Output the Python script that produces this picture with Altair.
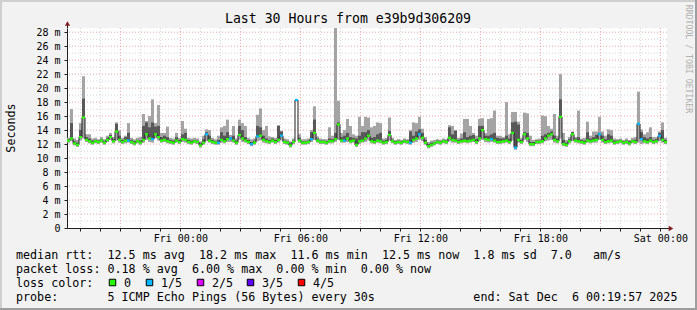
import altair as alt
import pandas as pd

# ---------------------------------------------------------------- data
# time axis: hours relative to Fri 00:00; 200 bins of 9 minutes
T_START = -5.6675   # Thu 18:19:57
T_END = 24.3325     # Sat 00:19:57
N_BINS = 200

median_ms = [
    12.5, 12.8, 12.1, 11.9, 13.0, 15.8, 12.6, 12.4, 12.2, 12.4,
    12.3, 12.5, 12.2, 12.6, 13.0, 12.4, 13.8, 12.6, 12.3, 12.5,
    12.5, 12.3, 12.1, 12.4, 12.2, 12.6, 13.4, 12.8, 12.7, 13.4,
    13.0, 12.5, 12.6, 12.4, 12.3, 12.2, 12.5, 12.3, 12.7, 12.6,
    12.3, 12.2, 12.4, 12.3, 11.8, 12.2, 13.4, 12.5, 12.3, 12.2,
    12.2, 12.6, 12.4, 12.7, 12.8, 12.5, 12.2, 13.3, 12.8, 12.5,
    12.3, 12.0, 12.2, 13.1, 13.2, 12.6, 12.4, 12.3, 12.5, 12.3,
    12.6, 13.2, 12.3, 12.2, 11.8, 12.3, 18.3, 12.5, 12.2, 12.2,
    12.3, 12.7, 13.6, 12.5, 12.3, 12.3, 12.2, 12.4, 12.4, 12.7,
    14.8, 12.5, 12.5, 12.8, 12.4, 12.5, 11.9, 12.4, 12.5, 12.8,
    13.2, 12.4, 12.3, 12.5, 12.4, 12.2, 12.3, 13.3, 12.4, 12.2,
    12.3, 12.2, 12.4, 12.3, 12.2, 12.6, 12.8, 13.4, 12.9, 12.2,
    11.7, 11.9, 12.1, 12.3, 12.2, 12.4, 12.3, 12.9, 12.6, 12.5,
    12.3, 12.4, 12.5, 12.4, 12.5, 12.6, 12.3, 12.8, 14.0, 12.7,
    12.6, 12.7, 12.5, 12.3, 12.3, 12.4, 12.5, 12.3, 13.6, 11.5,
    12.6, 12.3, 13.4, 12.8, 12.0, 12.0, 12.3, 12.3, 12.4, 12.8,
    13.2, 13.4, 12.6, 12.4, 15.9, 12.0, 11.9, 12.4, 13.4, 12.5,
    12.4, 12.3, 12.2, 12.5, 12.4, 12.5, 12.6, 13.4, 12.6, 12.3,
    12.4, 12.5, 12.2, 12.3, 12.4, 12.2, 12.3, 12.1, 12.4, 12.3,
    14.9, 12.7, 12.4, 12.3, 12.5, 12.3, 12.4, 13.2, 12.6, 12.3,
]

ping_min_ms = [
    12.2, 12.4, 11.8, 11.6, 12.5, 12.8, 12.3, 12.1, 11.9, 12.1,
    12.0, 12.2, 11.9, 12.3, 12.6, 12.1, 12.5, 12.2, 12.0, 12.1,
    12.2, 12.0, 11.8, 12.1, 11.9, 12.2, 12.6, 12.3, 12.2, 12.8,
    12.5, 12.2, 12.3, 12.1, 12.0, 11.9, 12.2, 12.0, 12.3, 12.2,
    12.0, 11.9, 12.1, 12.0, 11.5, 11.9, 12.4, 12.2, 12.0, 11.9,
    11.9, 12.2, 12.1, 12.3, 12.3, 12.2, 11.9, 12.6, 12.3, 12.2,
    12.0, 11.7, 11.9, 12.4, 12.5, 12.2, 12.1, 12.0, 12.2, 12.0,
    12.2, 12.5, 12.0, 11.9, 11.5, 12.0, 18.1, 12.2, 11.9, 11.9,
    12.0, 12.3, 12.6, 12.2, 12.0, 12.0, 11.9, 12.1, 12.1, 12.3,
    12.6, 12.2, 12.2, 12.3, 12.1, 12.2, 11.6, 12.0, 12.2, 12.3,
    12.5, 12.1, 12.0, 12.2, 12.1, 11.9, 12.0, 12.5, 12.1, 11.9,
    12.0, 11.9, 12.1, 12.0, 11.9, 12.2, 12.3, 12.6, 12.4, 11.9,
    11.4, 11.6, 11.8, 12.0, 11.9, 12.1, 12.0, 12.4, 12.2, 12.2,
    12.0, 12.1, 12.2, 12.1, 12.2, 12.3, 12.0, 12.4, 12.6, 12.3,
    12.2, 12.3, 12.2, 12.0, 12.0, 12.1, 12.2, 12.0, 12.5, 11.2,
    12.2, 12.0, 12.6, 12.3, 11.7, 11.7, 12.0, 12.0, 12.1, 12.4,
    12.5, 12.6, 12.2, 12.1, 12.8, 11.7, 11.6, 12.1, 12.4, 12.2,
    12.1, 12.0, 11.9, 12.2, 12.1, 12.2, 12.2, 12.6, 12.2, 12.0,
    12.1, 12.2, 11.9, 12.0, 12.1, 11.9, 12.0, 11.8, 12.1, 12.0,
    12.2, 12.0, 12.1, 12.0, 12.2, 12.0, 12.1, 12.4, 12.2, 12.0,
]

ping_q4_ms = [
    12.7, 15.0, 12.4, 12.2, 14.0, 18.5, 13.0, 12.8, 12.5, 12.6,
    12.5, 12.7, 12.4, 12.9, 13.3, 12.7, 14.9, 13.2, 12.6, 13.0,
    13.6, 12.6, 12.4, 12.6, 12.5, 14.6, 15.1, 14.4, 15.1, 14.5,
    14.6, 13.0, 13.2, 13.0, 12.6, 12.5, 13.0, 12.6, 13.4, 13.6,
    12.6, 12.5, 12.6, 12.5, 12.1, 12.7, 13.7, 13.2, 12.6, 12.4,
    12.6, 13.7, 13.2, 13.7, 13.0, 13.2, 12.5, 14.6, 14.0, 13.0,
    12.6, 12.3, 12.5, 14.6, 14.4, 13.2, 12.8, 12.6, 12.8, 12.6,
    14.6, 13.8, 12.5, 12.4, 12.1, 12.5, 18.3, 12.9, 12.4, 12.4,
    12.5, 13.7, 15.5, 12.8, 12.5, 12.5, 12.4, 12.8, 12.7, 13.6,
    15.1, 13.0, 13.2, 13.6, 13.0, 12.9, 12.8, 13.2, 13.7, 13.7,
    14.0, 12.9, 13.0, 13.4, 13.6, 12.5, 12.6, 13.9, 12.6, 12.4,
    12.5, 12.4, 12.6, 12.5, 13.8, 13.2, 13.8, 14.1, 13.6, 12.6,
    12.0, 12.2, 12.3, 12.5, 12.4, 12.6, 12.5, 14.4, 13.4, 13.9,
    12.6, 12.8, 13.7, 13.0, 13.2, 13.3, 12.7, 14.6, 14.6, 13.2,
    13.2, 13.4, 13.6, 12.9, 12.8, 12.8, 13.2, 12.8, 15.1, 15.2,
    14.8, 12.6, 13.7, 13.6, 12.3, 12.3, 12.5, 12.5, 13.2, 13.4,
    13.6, 13.8, 13.2, 12.8, 18.4, 12.6, 12.2, 12.7, 13.7, 12.8,
    13.0, 12.6, 12.5, 13.7, 12.8, 13.0, 13.3, 13.6, 13.2, 12.7,
    13.4, 13.2, 12.5, 12.5, 12.6, 12.4, 12.5, 12.4, 12.6, 12.6,
    15.0, 13.7, 13.0, 12.8, 13.0, 12.6, 12.7, 13.6, 14.0, 12.6,
]

ping_max_ms = [
    12.9, 17.0, 12.8, 12.6, 15.0, 21.7, 13.4, 13.4, 12.8, 12.9,
    12.7, 13.0, 12.7, 13.2, 13.6, 13.0, 15.1, 14.0, 12.9, 13.2,
    15.0, 12.9, 12.7, 12.9, 13.0, 16.3, 15.3, 16.0, 18.4, 15.0,
    17.6, 13.6, 13.6, 14.5, 12.9, 12.8, 13.6, 12.9, 15.3, 14.2,
    12.9, 12.8, 12.9, 12.8, 12.4, 13.2, 14.1, 14.0, 12.9, 12.7,
    13.2, 14.4, 14.6, 15.5, 13.3, 14.6, 12.8, 15.5, 15.0, 14.6,
    12.9, 12.7, 12.8, 16.2, 17.1, 14.0, 14.6, 13.1, 13.0, 12.9,
    14.7, 13.9, 12.8, 12.7, 12.4, 12.8, 18.4, 13.4, 12.7, 12.7,
    12.8, 14.0, 17.4, 13.1, 12.8, 12.7, 12.7, 14.4, 13.2, 28.6,
    18.2, 13.6, 14.0, 15.6, 14.6, 13.4, 13.2, 15.9, 14.6, 15.9,
    15.8, 14.4, 14.6, 15.1, 15.0, 12.8, 12.9, 15.8, 12.9, 12.6,
    12.7, 12.6, 12.8, 12.7, 14.0, 15.1, 15.0, 15.9, 14.2, 13.0,
    12.3, 12.5, 12.6, 12.7, 12.6, 12.8, 12.7, 14.7, 14.6, 14.0,
    12.9, 13.5, 15.6, 15.6, 14.6, 13.6, 13.2, 15.6, 15.7, 13.6,
    15.6, 15.7, 16.8, 13.2, 13.2, 13.0, 18.0, 13.4, 16.6, 16.6,
    15.2, 12.9, 16.5, 16.4, 13.2, 12.6, 12.7, 12.8, 16.1, 16.0,
    14.6, 14.2, 16.3, 13.2, 22.0, 13.6, 12.6, 13.0, 13.8, 13.0,
    16.8, 12.8, 12.9, 15.2, 13.2, 13.8, 13.8, 15.9, 13.8, 13.2,
    14.1, 14.0, 12.8, 12.7, 12.8, 12.6, 12.8, 12.6, 12.9, 13.0,
    19.5, 14.1, 13.4, 13.7, 14.4, 13.0, 13.0, 13.8, 15.1, 12.9,
]

loss_count = [
    0, 0, 0, 0, 0, 0, 0, 0, 0, 0,
    0, 0, 0, 0, 0, 0, 0, 0, 0, 0,
    1, 0, 0, 0, 0, 0, 0, 0, 1, 0,
    0, 0, 0, 0, 0, 0, 0, 0, 0, 0,
    0, 0, 0, 0, 0, 0, 1, 0, 0, 0,
    1, 0, 0, 0, 1, 0, 0, 0, 0, 0,
    0, 1, 0, 1, 0, 0, 0, 0, 0, 0,
    0, 1, 0, 0, 0, 0, 1, 0, 0, 0,
    0, 1, 0, 0, 0, 0, 0, 0, 0, 0,
    0, 0, 1, 0, 0, 0, 0, 0, 0, 0,
    0, 0, 0, 0, 0, 0, 0, 0, 0, 0,
    0, 0, 0, 0, 1, 0, 0, 1, 0, 0,
    0, 0, 0, 0, 0, 0, 0, 0, 0, 0,
    0, 0, 0, 0, 0, 0, 0, 0, 0, 0,
    0, 1, 0, 0, 0, 0, 0, 0, 0, 1,
    0, 0, 0, 0, 0, 0, 0, 0, 0, 0,
    0, 0, 0, 0, 0, 0, 0, 0, 0, 0,
    0, 0, 0, 0, 0, 0, 0, 1, 0, 0,
    0, 0, 0, 0, 0, 0, 0, 0, 0, 0,
    1, 1, 0, 0, 0, 0, 0, 1, 0, 0,
]

loss_levels = [0, 1, 2, 3, 4]
loss_labels = ["0", "1/5", "2/5", "3/5", "4/5"]
loss_colors = ["#26ff00", "#00b8ff", "#dd00ff", "#5e00ff", "#ff0000"]

y_ticks = list(range(0, 29, 2))
y_minor = list(range(1, 29, 2))
x_major_hours = [-3, 0, 3, 6, 9, 12, 15, 18, 21, 24]
x_minor_hours = [h for h in range(-5, 25) if h % 3 != 0]
x_tick_hours = list(range(-5, 25))
x_label_hours = [0, 6, 12, 18, 24]
x_label_text = ["Fri 00:00", "Fri 06:00", "Fri 12:00", "Fri 18:00", "Sat 00:00"]

title_text = "Last 30 Hours from e39b9d306209"
ylabel_text = "Seconds"
watermark_text = "RRDTOOL / TOBI OETIKER"
legend_row1 = "median rtt:  12.5 ms avg  18.2 ms max  11.6 ms min  12.5 ms now  1.8 ms sd  7.0   am/s"
legend_row2 = "packet loss: 0.18 % avg  6.00 % max  0.00 % min  0.00 % now"
legend_row3 = "loss color:"
legend_row4 = "probe:       5 ICMP Echo Pings (56 Bytes) every 30s              end: Sat Dec  6 00:19:57 2025"

# ---------------------------------------------------------------- frames
bin_w = (T_END - T_START) / N_BINS
bins = pd.DataFrame({
    "t0": [T_START + i * bin_w for i in range(N_BINS)],
    "t1": [T_START + (i + 1) * bin_w for i in range(N_BINS)],
    "med": median_ms,
    "lo": ping_min_ms,
    "q4": ping_q4_ms,
    "hi": ping_max_ms,
    "loss": loss_count,
})
line_df = pd.DataFrame({
    "t": list(bins["t0"]) + [T_END],
    "med": median_ms + [median_ms[-1]],
})
one = pd.DataFrame({"k": [0]})

MONO = "DejaVu Sans Mono"

label_expr = " : ".join(
    f"datum.value == {h} ? '{t}'" for h, t in zip(x_label_hours, x_label_text)
) + " : ''"

x_scale = alt.Scale(domain=[T_START, T_END], nice=False, zero=False)
y_scale = alt.Scale(domain=[0, 28.6], nice=False, zero=True)
x_axis = alt.Axis(
    values=x_tick_hours, labelExpr=label_expr, title=None, grid=False,
    domainColor="#1f1f1f", tickColor="#1f1f1f", tickSize=3,
    labelFont=MONO, labelFontSize=10, labelColor="black", labelPadding=2,
    labelFlush=False, labelOverlap=False, labelBound=False,
)
y_axis = alt.Axis(
    values=y_ticks, labelExpr="datum.value == 0 ? '0' : datum.value + ' m'",
    title=None, grid=False, domainColor="#1f1f1f", tickColor="#1f1f1f",
    tickSize=3, labelFont=MONO, labelFontSize=10, labelColor="black",
    labelPadding=4, labelFlush=False, labelOverlap=False, labelBound=False,
)


def X(field):
    return alt.X(field, type="quantitative", scale=x_scale, axis=x_axis)


def Y(field):
    return alt.Y(field, type="quantitative", scale=y_scale, axis=y_axis)


GRID_MINOR = "#d4d4d4"
GRID_MAJOR = "#eaa6a6"

hgrid_minor = alt.Chart(pd.DataFrame({"v": y_minor})).mark_rule(
    color=GRID_MINOR, strokeDash=[1, 2], strokeWidth=1).encode(y=Y("v"))
hgrid_major = alt.Chart(pd.DataFrame({"v": y_ticks[1:]})).mark_rule(
    color=GRID_MAJOR, strokeDash=[1, 2], strokeWidth=1).encode(y=Y("v"))
vgrid_minor = alt.Chart(pd.DataFrame({"h": x_minor_hours})).mark_rule(
    color=GRID_MINOR, strokeDash=[1, 2], strokeWidth=1).encode(x=X("h"))
vgrid_major = alt.Chart(pd.DataFrame({"h": x_major_hours})).mark_rule(
    color=GRID_MAJOR, strokeDash=[1, 2], strokeWidth=1).encode(x=X("h"))

smoke_light = alt.Chart(bins).mark_rect(color="#a4a4a4").encode(
    x=X("t0"), x2="t1", y=Y("lo"), y2="hi")
smoke_dark = alt.Chart(bins).mark_rect(color="#585858").encode(
    x=X("t0"), x2="t1", y=Y("med"), y2="q4")
median_line = alt.Chart(line_df).mark_line(
    color="#202020", strokeWidth=1, interpolate="step-after").encode(
    x=X("t"), y=Y("med"))
median_band = alt.Chart(bins).transform_calculate(
    m0="datum.med - 0.16", m1="datum.med + 0.16"
).mark_rect().encode(
    x=X("t0"), x2="t1", y=Y("m0:Q"), y2="m1:Q",
    color=alt.Color("loss:O", scale=alt.Scale(domain=loss_levels, range=loss_colors), legend=None),
)


def text(t, x, y, size=11.7, color="black", align="left", angle=0, baseline="middle"):
    return alt.Chart(one).mark_text(
        text=t.replace(" ", "\u00a0"), font=MONO, fontSize=size, color=color,
        align=align, baseline=baseline, angle=angle,
    ).encode(x=alt.value(x), y=alt.value(y))


def box(x0, x1, y0, y1, color):
    return alt.Chart(one).mark_rect(color=color).encode(
        x=alt.value(x0), x2=alt.value(x1), y=alt.value(y0), y2=alt.value(y1))


# plot origin is at canvas (67, 28)
layers = [
    hgrid_minor, hgrid_major, vgrid_minor, vgrid_major,
    smoke_light, smoke_dark, median_line, median_band,
    # axis arrows
    alt.Chart(one).mark_rule(color="#1f1f1f").encode(
        x=alt.value(600), x2=alt.value(604), y=alt.value(200.5)),
    alt.Chart(one).mark_point(shape="triangle-right", filled=True, size=28,
                              color="#801f1f", opacity=1).encode(
        x=alt.value(604), y=alt.value(200.5)),
    alt.Chart(one).mark_rule(color="#1f1f1f").encode(
        x=alt.value(0.5), y=alt.value(-3), y2=alt.value(0)),
    alt.Chart(one).mark_point(shape="triangle-up", filled=True, size=28,
                              color="#801f1f", opacity=1).encode(
        x=alt.value(0.5), y=alt.value(-4.5)),
    # texts
    text(title_text, 281, -9, size=13.2, align="center"),
    text(ylabel_text, -56.5, 100, angle=270, align="center"),
    text(watermark_text, 621, 31, size=8.2, color="#b0b0b0", angle=90, align="center"),
    text(legend_row1, -51, 227),
    text(legend_row2, -51, 240.5),
    text(legend_row3, -51, 254.5),
    text(legend_row4, -51, 268.5),
    # frame
    box(-67, 630, -28, -26, "#cfcfcf"),
    box(-67, -65, -28, 282, "#cfcfcf"),
    box(-67, 630, 280, 282, "#9e9e9e"),
    box(628, 630, -28, 282, "#9e9e9e"),
]

# loss colour legend boxes + labels
box_x = [42, 79, 130, 180, 231]
for bx, lab, col in zip(box_x, loss_labels, loss_colors):
    layers.append(
        alt.Chart(one).mark_square(size=42, filled=True, color=col, stroke="black",
                                   strokeWidth=1, opacity=1).encode(
            x=alt.value(bx + 3.5), y=alt.value(254.5)))
    layers.append(text(lab, bx + 15, 254.5))

chart = alt.layer(*layers).properties(
    width=600, height=200,
    autosize=alt.AutoSizeParams(type="none"),
    padding={"left": 67, "top": 28, "right": 30, "bottom": 82},
).configure(background="#f2f2f2").configure_view(fill="white", stroke=None)

chart.save("out.html", embed_options={"renderer": "svg", "actions": False})
